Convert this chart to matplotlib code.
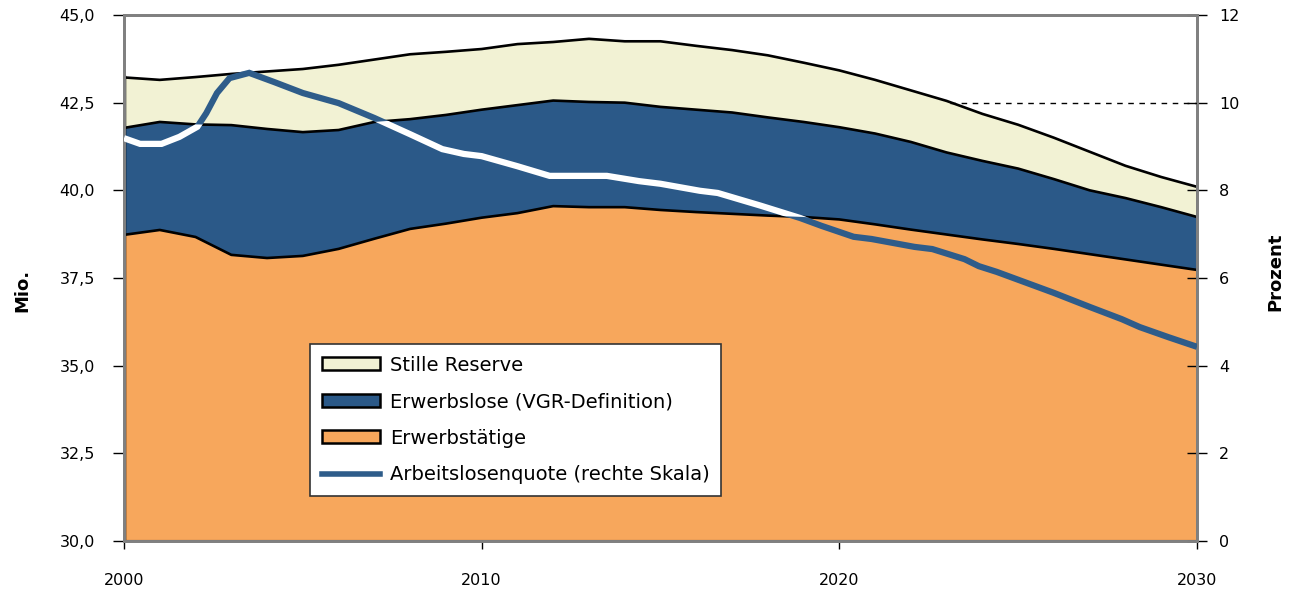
import matplotlib
matplotlib.use("Agg")
import matplotlib.pyplot as plt
import numpy as np
from matplotlib.patches import Patch
from matplotlib.lines import Line2D

plt.rcParams['font.family'] = ['DejaVu Sans']

years = list(range(2000, 2031))
# boundaries (Mio.)
erwerbstaetige = [38.73, 38.87, 38.67, 38.16, 38.07, 38.13, 38.33, 38.62, 38.90, 39.05,
                  39.22, 39.35, 39.55, 39.52, 39.52, 39.44, 39.38, 39.33, 39.28, 39.24,
                  39.17, 39.03, 38.88, 38.74, 38.60, 38.47, 38.33, 38.18, 38.03, 37.88, 37.73]
erwerbslose = [3.05, 3.08, 3.21, 3.70, 3.68, 3.53, 3.39, 3.33, 3.13, 3.10,
               3.08, 3.08, 3.01, 3.00, 2.98, 2.94, 2.92, 2.89, 2.80, 2.71,
               2.63, 2.59, 2.50, 2.34, 2.24, 2.15, 1.99, 1.82, 1.75, 1.64, 1.51]
stille_reserve = [1.44, 1.20, 1.35, 1.46, 1.64, 1.80, 1.86, 1.78, 1.85, 1.80,
                  1.73, 1.74, 1.67, 1.80, 1.75, 1.87, 1.82, 1.78, 1.77, 1.69,
                  1.62, 1.53, 1.47, 1.47, 1.34, 1.25, 1.18, 1.10, 0.92, 0.86, 0.86]

quote_years = [2000.0, 2000.45, 2001.05, 2001.55, 2002.05, 2002.3, 2002.6, 2002.95, 2003.5,
               2004.2, 2005.0, 2006.0, 2007.0, 2008.0, 2008.9, 2009.5, 2010.0, 2011.0,
               2011.9, 2013.5, 2014.4, 2015.0, 2016.1, 2016.6, 2017.8, 2018.9, 2019.5,
               2020.4, 2020.9, 2022.1, 2022.6, 2023.5, 2023.9, 2024.4, 2026.0, 2027.0,
               2027.9, 2028.4, 2029.2, 2030.0]
arbeitslosenquote = [9.19, 9.06, 9.06, 9.22, 9.45, 9.76, 10.22, 10.56, 10.68,
                     10.47, 10.22, 9.99, 9.65, 9.28, 8.94, 8.83, 8.78, 8.55,
                     8.33, 8.33, 8.21, 8.15, 7.99, 7.94, 7.65, 7.37, 7.19,
                     6.94, 6.89, 6.71, 6.66, 6.43, 6.27, 6.14, 5.66, 5.34,
                     5.06, 4.88, 4.65, 4.43]

labels = ["Stille Reserve", "Erwerbslose (VGR-Definition)", "Erwerbstätige",
          "Arbeitslosenquote (rechte Skala)"]

c_sr = "#F2F2D4"
c_el = "#2B5988"
c_et = "#F7A75C"
c_line = "#2E5C8A"

fig = plt.figure(figsize=(12.94, 5.91), dpi=100)
ax = fig.add_axes([124/1294, 50/591, (1197-124)/1294, (541-15)/591])
ax2 = ax.twinx()

x = np.array(years, dtype=float)
b0 = np.full_like(x, 30.0)
b1 = np.array(erwerbstaetige)
b2 = b1 + np.array(erwerbslose)
b3 = b2 + np.array(stille_reserve)

ax.fill_between(x, b0, b1, facecolor=c_et, edgecolor='none', zorder=1)
mid = ax.fill_between(x, b1, b2, facecolor=c_el, edgecolor='none', zorder=1)
ax.fill_between(x, b2, b3, facecolor=c_sr, edgecolor='none', zorder=1)
for b in (b1, b2, b3):
    ax.plot(x, b, color='black', lw=1.9, zorder=2, solid_joinstyle='round')
ax.plot([2000, 2000], [30, b3[0]], color='black', lw=2.5, zorder=2)
ax.plot([2030, 2030], [30, b3[-1]], color='black', lw=1.2, zorder=2)
ax.plot([2000, 2030], [30, 30], color='black', lw=1.5, zorder=2)

ax.set_xlim(2000, 2030)
ax.set_ylim(30, 45)
ax.set_yticks(np.arange(30, 45.01, 2.5))
ax.set_yticklabels([f"{v:.1f}".replace('.', ',') for v in np.arange(30, 45.01, 2.5)])
ax.set_xticks([2000, 2010, 2020, 2030])
ax.tick_params(axis='y', direction='out', length=8, width=1, pad=13, labelsize=11.5)
ax.tick_params(axis='x', direction='out', length=6, width=1, pad=17, labelsize=11.5)

ax2.set_ylim(0, 12)
ax2.set_yticks(range(0, 13, 2))
ax2.tick_params(axis='y', direction='inout', length=14, width=1, pad=9, labelsize=11.5)

# dashed reference line
ax2.plot([2023.1, 2030], [10, 10], color='black', lw=1, ls=(0, (4, 4)), zorder=3)

# unemployment rate line: blue, white where it crosses the Erwerbslose band
ax2.plot(quote_years, arbeitslosenquote, color=c_line, lw=4.5, zorder=4,
         solid_joinstyle='miter', solid_capstyle='butt')
wl, = ax2.plot(quote_years, arbeitslosenquote, color='white', lw=4.5, zorder=5,
               solid_joinstyle='miter', solid_capstyle='butt')
wl.set_clip_path(mid.get_paths()[0], transform=ax.transData)

for a in (ax, ax2):
    for s in a.spines.values():
        s.set_color('#808080')
        s.set_linewidth(2)
ax.patch.set_visible(False)
ax2.set_zorder(ax.get_zorder() + 1)
ax2.patch.set_visible(False)

fig.text(22/1294, 1 - 290/591, "Mio.", rotation=90, fontsize=13, fontweight='bold',
         ha='center', va='center')
fig.text(1275/1294, 1 - 272/591, "Prozent", rotation=90, fontsize=13, fontweight='bold',
         ha='center', va='center')

handles = [Patch(facecolor=c_sr, edgecolor='black', lw=1.8),
           Patch(facecolor=c_el, edgecolor='black', lw=1.8),
           Patch(facecolor=c_et, edgecolor='black', lw=1.8),
           Line2D([0], [0], color=c_line, lw=4)]
leg = ax2.legend(handles, labels, loc='upper left',
                 bbox_to_anchor=(310/1294, 1 - 344/591), bbox_transform=fig.transFigure,
                 fontsize=14, frameon=True, fancybox=False, shadow=False,
                 framealpha=1, facecolor='white',
                 handlelength=3.0, handleheight=0.65, labelspacing=0.9,
                 borderpad=0.6, handletextpad=0.5, borderaxespad=0)
leg.get_frame().set_edgecolor('#333333')
leg.get_frame().set_linewidth(1.2)
leg.set_zorder(10)

fig.savefig("out.png", dpi=100)
